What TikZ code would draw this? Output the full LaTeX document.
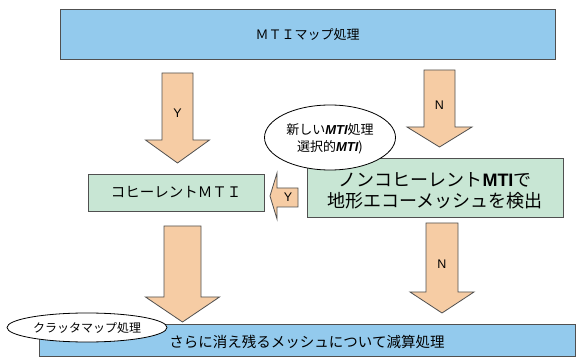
\documentclass[tikz,border=0pt]{standalone}
\usepackage{fontspec}
\setmainfont{Noto Sans CJK JP}
\newfontfamily\lat{Liberation Sans}
\usetikzlibrary{shapes.geometric}
\definecolor{boxblue}{HTML}{93CAED}
\definecolor{boxgreen}{HTML}{C8E6D4}
\definecolor{arrfill}{HTML}{F6CCA4}
\definecolor{edge}{HTML}{505050}
\tikzset{
  bluebox/.style={draw=edge, line width=0.8pt, fill=boxblue, rectangle, inner sep=0pt},
  greenbox/.style={draw=edge, line width=0.8pt, fill=boxgreen, rectangle, inner sep=0pt},
  blockarr/.style={draw=edge, line width=0.8pt, fill=arrfill, line join=miter},
  bubble/.style={draw=black, line width=0.8pt, fill=white, ellipse, inner sep=0pt},
  lbl/.style={font=\lat\fontsize{12.5}{14}\selectfont, inner sep=0pt}
}
\newcommand\blockdown[6]{%
  \draw[blockarr] ({#1-#3},#2) -- ({#1+#3},#2) -- ({#1+#3},#4) -- ({#1+#5},#4)
    -- (#1,#6) -- ({#1-#5},#4) -- ({#1-#3},#4) -- cycle;}
\begin{document}
\begin{tikzpicture}[x=1pt,y=-1pt]
\useasboundingbox (0,0) rectangle (576,358);
% top box
\node[bluebox, minimum width=495pt, minimum height=49.5pt] (top) at (307.5,34.25)
  {\fontsize{13}{15}\selectfont ＭＴＩマップ処理};
% down arrows from top
\blockdown{177.5}{73}{15.5}{140}{32}{163}
\node[lbl] (ly) at (177.5,113) {Y};
\blockdown{439.5}{70}{15.5}{127}{32.5}{147}
\node[lbl] (ln) at (439.5,105) {N};
% green boxes
\node[greenbox, minimum width=176pt, minimum height=37pt] (coh) at (176,192.5)
  {\fontsize{14.5}{16}\selectfont コヒーレントＭＴＩ};
\node[greenbox, minimum width=256pt, minimum height=59pt] (non) at (435,187.5) {};
\node[align=center, inner sep=0pt, font=\fontsize{18}{21}\selectfont] (nontext) at (435,190.5)
  {ノンコヒーレント{\lat\bfseries MTI}で\\地形エコーメッシュを検出};
% bubble
\node[bubble, minimum width=131pt, minimum height=65pt] (sel) at (330,137.5) {};
\node[align=center, inner sep=0pt, font=\fontsize{13}{17}\selectfont] (seltext) at (330,139)
  {新しい{\lat\bfseries\itshape MTI}処理\\選択的{\lat\bfseries\itshape MTI})};
% left arrow Y
\draw[blockarr] (270,196) -- (277,173) -- (277,188) -- (298,188) -- (298,207)
  -- (277,207) -- (277,219) -- cycle;
\node[lbl] (ly2) at (288,197.5) {Y};
% lower arrows
\blockdown{182.5}{226}{18.5}{297}{37}{322}
\blockdown{442}{223}{16}{292}{32}{313}
\node[lbl] (ln2) at (442,264) {N};
% bottom box
\node[bluebox, minimum width=536pt, minimum height=32pt] (bot) at (307,340) {};
\node[inner sep=0pt, font=\fontsize{14.5}{16}\selectfont] (bottext) at (307,342)
  {さらに消え残るメッシュについて減算処理};
\node[bubble, minimum width=160pt, minimum height=29pt] (clut) at (87,327.5)
  {\fontsize{12}{14}\selectfont クラッタマップ処理};
\end{tikzpicture}
\end{document}
